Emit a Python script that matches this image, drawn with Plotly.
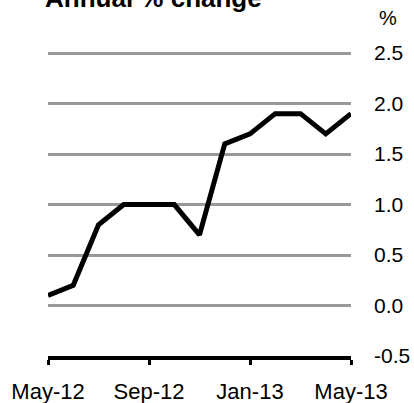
import plotly.graph_objects as go

months = ["May-12", "Jun-12", "Jul-12", "Aug-12", "Sep-12", "Oct-12", "Nov-12",
          "Dec-12", "Jan-13", "Feb-13", "Mar-13", "Apr-13", "May-13"]
values = [0.1, 0.2, 0.8, 1.0, 1.0, 1.0, 0.7, 1.6, 1.7, 1.9, 1.9, 1.7, 1.9]
x_tick_labels = ["May-12", "Sep-12", "Jan-13", "May-13"]
y_tick_vals = [2.5, 2.0, 1.5, 1.0, 0.5, 0.0, -0.5]
y_tick_labels = ["2.5", "2.0", "1.5", "1.0", "0.5", "0.0", "-0.5"]

idx = list(range(len(months)))
x_tick_idx = [months.index(m) for m in x_tick_labels]

W, H = 414, 403
y_lo, y_hi = -0.5, 2.56
px_per_unit = 101.0
L, R, B = 48, 63, 47
ph = (y_hi - y_lo) * px_per_unit
T = H - B - ph
pw = W - L - R

def px_to_paper_y(py):
    return (H - B - py) / ph

def px_to_paper_x(px):
    return (px - L) / pw

font = "Arial, Liberation Sans, sans-serif"

fig = go.Figure()
fig.add_trace(go.Scatter(x=idx, y=values, mode="lines",
                         line=dict(color="black", width=5), hoverinfo="skip"))

fig.update_layout(
    width=W, height=H,
    margin=dict(l=L, r=R, t=T, b=B, autoexpand=False),
    paper_bgcolor="white", plot_bgcolor="white",
    showlegend=False,
    font=dict(family=font, size=20, color="black"),
    xaxis=dict(range=[0, 12], tickvals=x_tick_idx, ticktext=x_tick_labels,
               showgrid=False, zeroline=False, automargin=False,
               showline=True, linecolor="black", linewidth=4,
               ticks="outside", ticklen=5, tickwidth=3, tickcolor="black",
               ticklabelstandoff=8,
               tickfont=dict(family=font, size=22, color="black")),
    yaxis=dict(range=[y_lo, y_hi], side="right", tickvals=y_tick_vals,
               ticktext=y_tick_labels, showgrid=True, gridcolor="#999999",
               gridwidth=3, zeroline=False, showline=False, ticks="",
               automargin=False, ticklabelstandoff=22,
               tickfont=dict(family=font, size=21, color="black")),
)

fig.add_annotation(text="<b>Annual % change</b>", xref="paper", yref="paper",
                   x=px_to_paper_x(43), y=px_to_paper_y(15), xanchor="left",
                   yanchor="bottom", showarrow=False,
                   font=dict(family=font, size=26, color="black"))
fig.add_annotation(text="%", xref="paper", yref="paper",
                   x=px_to_paper_x(388), y=px_to_paper_y(31), xanchor="center",
                   yanchor="bottom", showarrow=False,
                   font=dict(family=font, size=20, color="black"))

fig.write_html("out.html", config={"displayModeBar": False},
               post_script="document.body.style.margin='0';document.body.style.padding='0';")
